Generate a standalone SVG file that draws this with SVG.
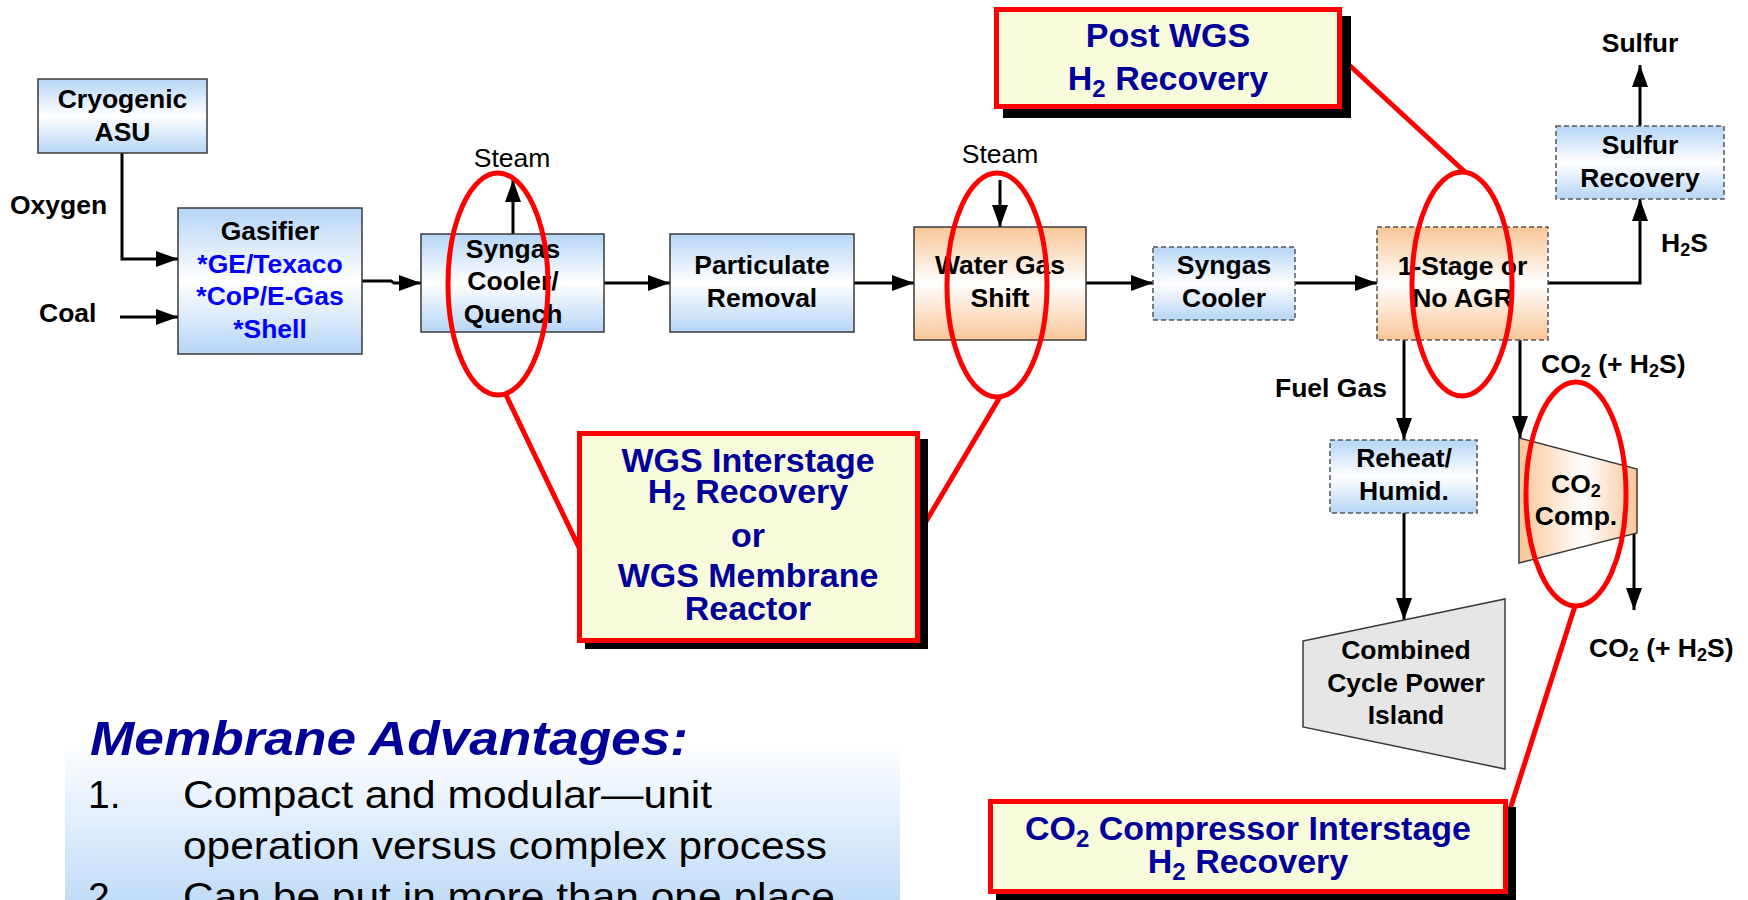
<svg xmlns="http://www.w3.org/2000/svg" width="1748" height="900" viewBox="0 0 1748 900">
  <defs>
    <linearGradient id="blueFill" x1="0" y1="0" x2="0" y2="1">
      <stop offset="0" stop-color="#b6d5f6"/>
      <stop offset="0.5" stop-color="#ffffff"/>
      <stop offset="1" stop-color="#b6d5f6"/>
    </linearGradient>
    <linearGradient id="orangeFill" x1="0" y1="0" x2="0" y2="1">
      <stop offset="0" stop-color="#f9c698"/>
      <stop offset="0.5" stop-color="#ffffff"/>
      <stop offset="1" stop-color="#f9c698"/>
    </linearGradient>
    <linearGradient id="orangeSide" x1="0" y1="0" x2="1" y2="0">
      <stop offset="0" stop-color="#f9c698"/>
      <stop offset="0.55" stop-color="#ffffff"/>
      <stop offset="1" stop-color="#f9c698"/>
    </linearGradient>
    <linearGradient id="panelFill" x1="0" y1="0" x2="0" y2="1">
      <stop offset="0" stop-color="#ffffff"/>
      <stop offset="0.18" stop-color="#ffffff"/>
      <stop offset="1" stop-color="#c0dbf8"/>
    </linearGradient>
    <marker id="ah" markerUnits="userSpaceOnUse" markerWidth="22" markerHeight="16" refX="22" refY="8" orient="auto">
      <path d="M0,0 L22,8 L0,16 Z" fill="#000"/>
    </marker>
  </defs>
  <style>
    text{font-family:"Liberation Sans",Arial,Helvetica,sans-serif}
    .t{font-size:26.5px;font-weight:bold;text-anchor:middle;fill:#000}
    .lb{font-size:26.5px;font-weight:bold;fill:#000}
    .st{font-size:26.5px;text-anchor:middle;fill:#000}
    .blu{fill:#0000ff}
    .box{stroke:#3a3a3a;stroke-width:1.5}
    .dash{stroke:#555;stroke-width:1.5;stroke-dasharray:5 3}
    .flow{fill:none;stroke:#000;stroke-width:3;marker-end:url(#ah)}
    .ring{fill:none;stroke:#ff0000;stroke-width:5}
    .lead{stroke:#ff0000;stroke-width:5}
    .shadow{fill:#000}
    .call{fill:#f8fadc;stroke:#ff0000;stroke-width:5}
    .ct{font-size:34px;font-weight:bold;text-anchor:middle;fill:#000099}
    .sub{font-size:24px}
    .sm{font-size:18px}
  </style>

  <!-- background -->
  <rect width="1748" height="900" fill="#ffffff"/>

  <!-- advantages panel -->
  <g id="advantages">
    <rect x="65" y="705" width="835" height="200" fill="url(#panelFill)"/>
    <text x="90" y="755" font-size="48" font-weight="bold" font-style="italic" fill="#000099" textLength="598" lengthAdjust="spacingAndGlyphs">Membrane Advantages:</text>
    <text x="88" y="808" font-size="39" fill="#000">1.</text>
    <text x="183" y="808" font-size="39" fill="#000" textLength="529" lengthAdjust="spacingAndGlyphs">Compact and modular—unit</text>
    <text x="183" y="859" font-size="39" fill="#000" textLength="644" lengthAdjust="spacingAndGlyphs">operation versus complex process</text>
    <text x="88" y="910" font-size="39" fill="#000">2.</text>
    <text x="183" y="910" font-size="39" fill="#000" textLength="652" lengthAdjust="spacingAndGlyphs">Can be put in more than one place</text>
  </g>

  <!-- process connectors -->
  <g id="connectors">
    <path class="flow" d="M122,153 V259 H178"/>
    <path class="flow" d="M120,317 H178"/>
    <path class="flow" d="M362,281 H391 L394,283 H421"/>
    <path class="flow" d="M513,234 V180"/>
    <path class="flow" d="M604,283 H670"/>
    <path class="flow" d="M854,283 H914"/>
    <path class="flow" d="M1000,180 V227"/>
    <path class="flow" d="M1086,283 H1153"/>
    <path class="flow" d="M1295,283 H1377"/>
    <path class="flow" d="M1548,283 H1640 V199"/>
    <path class="flow" d="M1640,126 V65"/>
    <path class="flow" d="M1404,340 V440"/>
    <path class="flow" d="M1404,513 V620"/>
    <path class="flow" d="M1520,340 V438"/>
    <path class="flow" d="M1634,533 V610"/>
  </g>

  <!-- stream labels -->
  <g id="labels">
    <text class="lb" x="10" y="214">Oxygen</text>
    <text class="lb" x="39" y="322">Coal</text>
    <text class="st" x="512" y="167">Steam</text>
    <text class="st" x="1000" y="163">Steam</text>
    <text class="t" x="1640" y="52">Sulfur</text>
    <text class="lb" x="1661" y="252">H<tspan class="sm" dy="4">2</tspan><tspan dy="-4">S</tspan></text>
    <text class="lb" x="1541" y="373">CO<tspan class="sm" dy="4">2</tspan><tspan dy="-4"> (+ H</tspan><tspan class="sm" dy="4">2</tspan><tspan dy="-4">S)</tspan></text>
    <text class="lb" x="1275" y="397">Fuel Gas</text>
    <text class="lb" x="1589" y="657">CO<tspan class="sm" dy="4">2</tspan><tspan dy="-4"> (+ H</tspan><tspan class="sm" dy="4">2</tspan><tspan dy="-4">S)</tspan></text>
  </g>

  <!-- unit operations -->
  <g id="asu">
    <rect class="box" x="38" y="79" width="169" height="74" fill="url(#blueFill)"/>
    <text class="t" x="122.5" y="108">Cryogenic</text>
    <text class="t" x="122.5" y="141">ASU</text>
  </g>
  <g id="gasifier">
    <rect class="box" x="178" y="208" width="184" height="146" fill="url(#blueFill)"/>
    <text class="t" x="270" y="240">Gasifier</text>
    <text class="t blu" x="270" y="272.5">*GE/Texaco</text>
    <text class="t blu" x="270" y="305">*CoP/E-Gas</text>
    <text class="t blu" x="270" y="337.5">*Shell</text>
  </g>
  <g id="syngas-quench">
    <rect class="box" x="421" y="234" width="183" height="98" fill="url(#blueFill)"/>
    <text class="t" x="513" y="258">Syngas</text>
    <text class="t" x="513" y="290">Cooler/</text>
    <text class="t" x="513" y="323">Quench</text>
  </g>
  <g id="particulate">
    <rect class="box" x="670" y="234" width="184" height="98" fill="url(#blueFill)"/>
    <text class="t" x="762" y="274">Particulate</text>
    <text class="t" x="762" y="307">Removal</text>
  </g>
  <g id="wgs">
    <rect class="box" x="914" y="227" width="172" height="113" fill="url(#orangeFill)"/>
    <text class="t" x="1000" y="274">Water Gas</text>
    <text class="t" x="1000" y="307">Shift</text>
  </g>
  <g id="syngas-cooler">
    <rect class="dash" x="1153" y="247" width="142" height="73" fill="url(#blueFill)"/>
    <text class="t" x="1224" y="274">Syngas</text>
    <text class="t" x="1224" y="307">Cooler</text>
  </g>
  <g id="agr">
    <rect class="dash" x="1377" y="227" width="171" height="113" fill="url(#orangeFill)"/>
    <text class="t" x="1462.5" y="275">1-Stage or</text>
    <text class="t" x="1462.5" y="307">No AGR</text>
  </g>
  <g id="sulfur-recovery">
    <rect class="dash" x="1556" y="126" width="168" height="73" fill="url(#blueFill)"/>
    <text class="t" x="1640" y="154">Sulfur</text>
    <text class="t" x="1640" y="187">Recovery</text>
  </g>
  <g id="reheat">
    <rect class="dash" x="1330" y="440" width="147" height="73" fill="url(#blueFill)"/>
    <text class="t" x="1404" y="467">Reheat/</text>
    <text class="t" x="1404" y="500">Humid.</text>
  </g>
  <g id="power-island">
    <polygon class="box" points="1303,641 1505,599 1505,769 1303,727" fill="#e6e6e6"/>
    <text class="t" x="1406" y="659">Combined</text>
    <text class="t" x="1406" y="692">Cycle Power</text>
    <text class="t" x="1406" y="724">Island</text>
  </g>
  <g id="co2-compressor">
    <polygon class="box" points="1519,438 1637,469 1637,533 1519,563" fill="url(#orangeSide)"/>
    <text class="t" x="1576" y="493">CO<tspan class="sm" dy="4">2</tspan></text>
    <text class="t" x="1576" y="525">Comp.</text>
  </g>

  <!-- highlight rings and leaders -->
  <g id="highlights">
    <ellipse class="ring" cx="498" cy="284" rx="50" ry="111"/>
    <ellipse class="ring" cx="997" cy="285" rx="50" ry="112"/>
    <ellipse class="ring" cx="1462" cy="284" rx="50" ry="112"/>
    <ellipse class="ring" cx="1576" cy="494" rx="50" ry="112"/>
    <line class="lead" x1="506" y1="395" x2="585" y2="560"/>
    <line class="lead" x1="1000" y1="397" x2="912" y2="545"/>
    <line class="lead" x1="1335" y1="52" x2="1465" y2="172"/>
    <line class="lead" x1="1575" y1="606" x2="1505" y2="825"/>
  </g>

  <!-- callouts -->
  <g id="callout-post-wgs">
    <rect class="shadow" x="1003" y="16" width="348" height="102"/>
    <rect class="call" x="996.5" y="9.5" width="343" height="97"/>
    <text class="ct" x="1168" y="47">Post WGS</text>
    <text class="ct" x="1168" y="90">H<tspan class="sub" dy="7">2</tspan><tspan dy="-7"> Recovery</tspan></text>
  </g>
  <g id="callout-wgs-interstage">
    <rect class="shadow" x="585" y="439" width="343" height="210"/>
    <rect class="call" x="579.5" y="433.5" width="338" height="207"/>
    <text class="ct" x="748" y="472">WGS Interstage</text>
    <text class="ct" x="748" y="503">H<tspan class="sub" dy="7">2</tspan><tspan dy="-7"> Recovery</tspan></text>
    <text class="ct" x="748" y="547">or</text>
    <text class="ct" x="748" y="587">WGS Membrane</text>
    <text class="ct" x="748" y="620">Reactor</text>
  </g>
  <g id="callout-co2-interstage">
    <rect class="shadow" x="996" y="807" width="520" height="94"/>
    <rect class="call" x="990.5" y="801.5" width="515" height="90"/>
    <text class="ct" x="1248" y="840">CO<tspan class="sub" dy="7">2</tspan><tspan dy="-7"> Compressor Interstage</tspan></text>
    <text class="ct" x="1248" y="873">H<tspan class="sub" dy="7">2</tspan><tspan dy="-7"> Recovery</tspan></text>
  </g>
</svg>
